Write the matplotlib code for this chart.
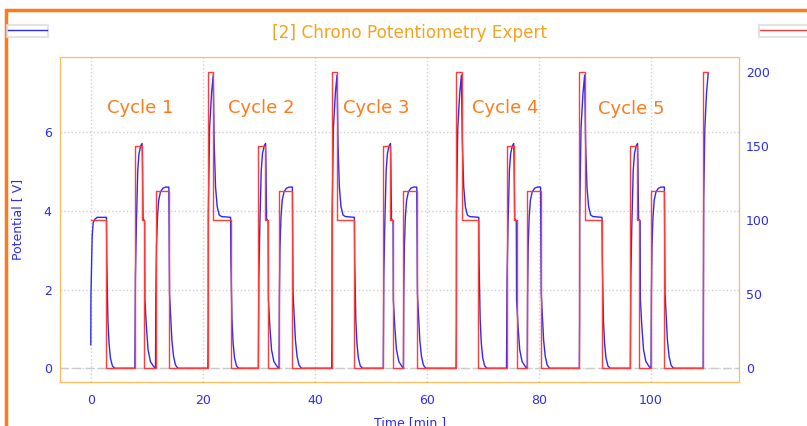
#Chrono potentiometry: potential (left) and current steps (right) over 5 cycles
import numpy as np
import matplotlib.pyplot as plt
import matplotlib
from matplotlib.lines import Line2D
from matplotlib.patches import Rectangle

matplotlib.rcParams['font.family'] = 'DejaVu Sans'
matplotlib.rcParams['xtick.labelsize'] = 9
matplotlib.rcParams['ytick.labelsize'] = 9

BLUE = '#2b2bf5'
RED = '#ff3c3c'
ORANGE = '#ff7a1a'
TITLE_OR = '#f6a21e'
SPINE = '#ffb85c'

# current steps [uA] (red), value holds until the next time
cur_t = [0, 2.8, 7.86, 9.2, 9.5, 11.55, 14.0,
         20.9, 21.85, 24.94, 29.9, 31.1, 31.65, 33.6, 36.0,
         43.0, 44.0, 47.0, 52.2, 53.4, 53.9, 55.8, 58.3,
         65.2, 66.25, 69.2, 74.2, 75.5, 76.0, 77.9, 80.3,
         87.2, 88.3, 91.3, 96.3, 97.55, 97.9, 100.0, 102.4,
         109.3, 110.2]
cur_i = [100, 0, 150, 100, 0, 120, 0,
         200, 100, 0, 150, 100, 0, 120, 0,
         200, 100, 0, 150, 100, 0, 120, 0,
         200, 100, 0, 150, 100, 0, 120, 0,
         200, 100, 0, 150, 100, 0, 120, 0,
         200, 200]

first_t = [0, 0.02, 0.12, 0.24, 0.42, 0.71, 1.12, 2.8, 2.85, 2.95, 3.05, 3.25, 3.5, 3.85, 4.25]
first_v = [0.6, 1.82, 2.58, 3.35, 3.7, 3.79, 3.84, 3.84, 2.76, 1.92, 1.23, 0.64, 0.26, 0.06, 0]

p200_r = [0, 0.05, 0.07, 0.3, 0.65, 0.95, 1.12, 1.36, 1.66, 2.02, 2.43, 4.05, 4.1, 4.2, 4.3, 4.5, 4.76, 5.1, 5.5]
p200_v = [0, 1.2, 3.9, 6.1, 7.0, 7.46, 5.73, 4.62, 4.11, 3.9, 3.86, 3.84, 2.76, 1.92, 1.23, 0.64, 0.26, 0.06, 0]

p150_r = [0, 0.1, 0.28, 0.52, 0.75, 1.05, 1.29, 1.35, 1.47, 1.75, 1.8, 2.06, 2.36, 2.78, 3.37, 3.65]
p150_v = [0, 2.33, 3.7, 5.04, 5.47, 5.66, 5.72, 5.3, 3.8, 3.75, 1.74, 1.06, 0.47, 0.17, 0.04, 0]

p120_r = [0, 0.06, 0.17, 0.35, 0.57, 0.89, 1.31, 1.79, 2.38, 2.44, 2.5, 2.68, 2.92, 3.22, 3.57, 3.99]
p120_v = [0, 1.82, 3.09, 3.86, 4.28, 4.49, 4.58, 4.61, 4.61, 3.0, 1.9, 1.41, 0.72, 0.3, 0.08, 0]

last_r = [0, 0.05, 0.1, 0.3, 0.6, 0.9]
last_v = [0, 2.2, 4.3, 6.1, 7.0, 7.5]

on200 = [20.9, 43.0, 65.2, 87.2]
on150 = [7.86, 29.9, 52.2, 74.2, 96.3]
on120 = [11.55, 33.6, 55.8, 77.9, 100.0]
on_last = 109.3

cycle_names = ['Cycle 1', 'Cycle 2', 'Cycle 3', 'Cycle 4', 'Cycle 5']
cycle_x = [8.9, 30.5, 51.0, 73.9, 96.5]
cycle_y = [6.63, 6.61, 6.63, 6.63, 6.59]

# stitch the potential trace together in time order
pieces = [(0, first_t, first_v)]
pieces += [(s, p200_r, p200_v) for s in on200]
pieces += [(s, p150_r, p150_v) for s in on150]
pieces += [(s, p120_r, p120_v) for s in on120]
pieces += [(on_last, last_r, last_v)]
pieces.sort(key=lambda p: p[0])
pot_t = np.concatenate([np.array(r) + s for s, r, v in pieces])
pot_v = np.concatenate([np.array(v) for s, r, v in pieces])

fig = plt.figure(figsize=(8.07, 4.26), dpi=100)
ax = fig.add_axes([60/807, 1-382/426, (739-60)/807, (382-57)/426])
ax2 = ax.twinx()

ax.plot(pot_t, pot_v, color=BLUE, lw=1, zorder=2)
ax2.step(cur_t, cur_i, where='post', color=RED, lw=1, zorder=3)

ax.set_xlim(-5.5, 115.7)
ax.set_ylim(-0.35, 7.92)
ax2.set_ylim(-9.3, 210.3)
ax.set_xticks(np.arange(0, 101, 20))
ax.set_yticks([0, 2, 4, 6])
ax2.set_yticks([0, 50, 100, 150, 200])

ax.grid(True, color='#cfcfcf', ls=':', lw=1)
ax.axhline(0, color='#c8c8c8', ls=(0, (6, 3)), lw=1, zorder=1)

for a in (ax, ax2):
    a.tick_params(length=0, colors=BLUE)
    for s in a.spines.values():
        s.set_color(SPINE)
ax.tick_params(axis='x', pad=9)
ax.tick_params(axis='y', pad=6)
ax2.tick_params(axis='y', pad=5)

ax.set_xlabel('Time [min.]', color=BLUE, fontsize=9)
ax.xaxis.set_label_coords((410-60)/679, -0.105)
ax.set_ylabel('Potential [ V]', color=BLUE, fontsize=9, labelpad=14)
ax2.set_ylabel('Current [uA]', color=BLUE, fontsize=9, labelpad=36)

for name, x, y in zip(cycle_names, cycle_x, cycle_y):
    ax.text(x, y, name, color=ORANGE, fontsize=13, ha='center', va='center')

fig.text(410/807, 1-33/426, '[2] Chrono Potentiometry Expert', color=TITLE_OR,
         fontsize=12.2, ha='center', va='center')

# legend boxes at the top corners
leg1 = fig.legend(handles=[Line2D([], [], color=BLUE, lw=1)], labels=[''],
                  loc='upper left', bbox_to_anchor=(7/807, 1-25/426), frameon=True,
                  fancybox=False, edgecolor='#dcdcdc', borderpad=0.15, handlelength=4.6,
                  handletextpad=0, borderaxespad=0, fontsize=6)
leg1.get_frame().set_linewidth(1.5)
leg2 = fig.legend(handles=[Line2D([], [], color=RED, lw=1)], labels=[''],
                  loc='upper left', bbox_to_anchor=(759/807, 1-25/426), frameon=True,
                  fancybox=False, edgecolor='#dcdcdc', borderpad=0.15, handlelength=7,
                  handletextpad=0, borderaxespad=0, fontsize=6)
leg2.get_frame().set_linewidth(1.5)

# orange outer frame (runs off the right and bottom edges)
fig.add_artist(Rectangle((6.5/807, -0.5), 2, 1.5 - 10/426, transform=fig.transFigure,
                         fill=False, edgecolor=ORANGE, lw=2.5, clip_on=False))

plt.savefig('out.png', dpi=100)
